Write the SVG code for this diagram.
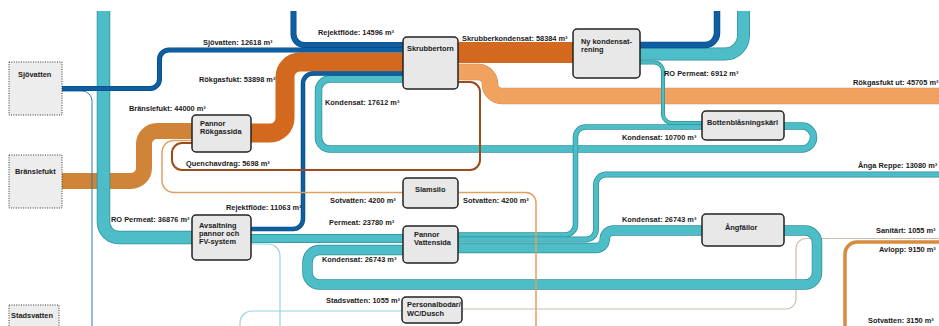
<svg xmlns="http://www.w3.org/2000/svg" xmlns:xlink="http://www.w3.org/1999/xlink" width="939" height="326" viewBox="0 0 939 326">
<style>
.b{fill:none;stroke-linecap:butt;stroke-linejoin:round}
.tO{stroke:#2f8e99}
.tI{stroke:#4dbdc8}
.db{stroke:#0e5ea2}
.dbO{stroke:#08467c}
.ro{stroke:#d3681f}
.lo{stroke:#f1a25e}
.loO{stroke:#c98a58}
.bf{stroke:#d08437}
.qu{stroke:#9c4c1c}
.sot{stroke:#e0a060}
.av{stroke:#d98a3c}
.st{stroke:#94d6dc}
.san{stroke:#cdbcae}
.sj{stroke:#2b7bb9}
text{font-family:"Liberation Sans",Arial,sans-serif;font-size:7.4px;font-weight:bold;fill:#1a1a1a}
.node rect{fill:#e8e8e8;stroke:#222;stroke-width:1.5}
.src rect{fill:#ededed;stroke:#333;stroke-width:1;stroke-dasharray:1 1.4}
</style>
<defs>
<path id="p1" d="M103.5,11 V222 A15.5,15.5 0 0 0 119,237.5 H192"/>
<path id="p2" d="M640,54 H725 A18.5,18.5 0 0 0 743.5,35.5 V11"/>
<path id="p3" d="M640,45 H705 A12,12 0 0 0 717,33 V11"/>
<path id="p4" d="M293.5,11 V34 A11,11 0 0 0 304.5,45 H403"/>
<path id="p5" d="M62,88.5 H150 A9.5,9.5 0 0 0 159.5,79 V59.5 A9.5,9.5 0 0 1 169,50 H403"/>
<path id="p6" d="M251,133 H270 A15,15 0 0 0 285,118 V77 A15,15 0 0 1 300,62 H403"/>
<path id="p7" d="M403,73.5 H313 A10,10 0 0 0 303,83.5 V219 A10,10 0 0 1 293,229 H251"/>
<path id="p8" d="M403,79 H330 A11.5,11.5 0 0 0 318.5,90.5 V137.5 A11.5,11.5 0 0 0 330,149 H802 A11.5,11.5 0 0 0 813.5,137.5 A11.5,11.5 0 0 0 802,126 H784"/>
<path id="p9" d="M458,235 H565 A10.5,10.5 0 0 0 575.5,224.5 V137 A10,10 0 0 1 585.5,127 H702"/>
<path id="p10" d="M640,62.5 H654 A9,9 0 0 1 663,71.5 V114 A9,9 0 0 0 672,123 H702"/>
<path id="p12" d="M458,72 H478 A12,12 0 0 1 490,84 A12,12 0 0 0 502,96 H939"/>
<path id="p13" d="M62,181 H131 A13,13 0 0 0 144,168 V144 A13,13 0 0 1 157,131 H192"/>
<path id="p17" d="M458,239.5 H586 A10,10 0 0 0 596,229.5 V184.5 A10,10 0 0 1 606,174.5 H939"/>
<path id="p18" d="M458,248 H596 A8.75,8.75 0 0 0 604.75,239.25 A8.75,8.75 0 0 1 613.5,230.5 H702"/>
<path id="p19" d="M784,230.5 H805 A12,12 0 0 1 817,242.5 V272.5 A12,12 0 0 1 805,284.5 H319.5 A12,12 0 0 1 307.5,272.5 V262 A12,12 0 0 1 319.5,250 H403"/>
<path id="p20" d="M251,238.5 H403"/>
</defs>

<g id="connectors" class="b">
  <path class="st" stroke-width="1.2" d="M251,244 H268 A12,12 0 0 1 280,256 V326"/>
  <path class="st" stroke-width="1.2" d="M240,326 V323 A12,12 0 0 1 252,311 H402"/>
  <path class="san" stroke-width="1.2" d="M939,238.5 H806 A10,10 0 0 0 796,248.5 V299 A10,10 0 0 1 786,309 H462"/>
  <path class="av" stroke-width="3.5" d="M939,242 H857 A12,12 0 0 0 845,254 V326"/>

  <use xlink:href="#p13" class="bf" stroke-width="16"/>
  <path class="sj" stroke-width="1" d="M62,91 H82 A10,10 0 0 1 92,101 V326"/>

  <use xlink:href="#p1" class="tO" stroke-width="13.5"/>
  <use xlink:href="#p1" class="tI" stroke-width="12"/>
  <use xlink:href="#p2" class="tO" stroke-width="13"/>
  <use xlink:href="#p2" class="tI" stroke-width="11.5"/>
  <use xlink:href="#p8" class="tO" stroke-width="7.5"/>
  <use xlink:href="#p8" class="tI" stroke-width="6"/>
  <use xlink:href="#p9" class="tO" stroke-width="5.5"/>
  <use xlink:href="#p9" class="tI" stroke-width="4"/>
  <use xlink:href="#p17" class="tO" stroke-width="5.8"/>
  <use xlink:href="#p17" class="tI" stroke-width="4.3"/>
  <use xlink:href="#p19" class="tO" stroke-width="10.5"/>
  <use xlink:href="#p19" class="tI" stroke-width="9"/>
  <use xlink:href="#p18" class="tO" stroke-width="10.5"/>
  <use xlink:href="#p18" class="tI" stroke-width="9"/>
  <use xlink:href="#p20" class="tO" stroke-width="9"/>
  <use xlink:href="#p20" class="tI" stroke-width="7.5"/>

  <use xlink:href="#p12" class="loO" stroke-width="16.5"/>
  <use xlink:href="#p12" class="lo" stroke-width="15.3"/>
  <path class="ro" stroke-width="21" d="M458,52.5 H573"/>
  <use xlink:href="#p6" class="ro" stroke-width="19"/>

  <use xlink:href="#p3" class="dbO" stroke-width="6.5"/>
  <use xlink:href="#p3" class="db" stroke-width="5.3"/>
  <use xlink:href="#p4" class="dbO" stroke-width="6"/>
  <use xlink:href="#p4" class="db" stroke-width="4.8"/>
  <use xlink:href="#p5" class="dbO" stroke-width="5"/>
  <use xlink:href="#p5" class="db" stroke-width="3.8"/>
  <use xlink:href="#p7" class="dbO" stroke-width="4.5"/>
  <use xlink:href="#p7" class="db" stroke-width="3.3"/>

  <use xlink:href="#p10" class="tO" stroke-width="4"/>
  <use xlink:href="#p10" class="tI" stroke-width="2.6"/>

  <path class="qu" stroke-width="2" d="M200,143 H182 A10,10 0 0 0 172,153 V160 A10,10 0 0 0 182,170 H470 A10,10 0 0 0 480,160 V92 A10,10 0 0 0 470,82 H458"/>
  <path class="sot" stroke-width="1.5" d="M200,140.5 H174 A12,12 0 0 0 162,152.5 V180.5 A12,12 0 0 0 174,192.5 H403"/>
  <path class="sot" stroke-width="1.5" d="M458,192.5 H526 A10,10 0 0 1 536,202.5 V326"/>
</g>

<g id="labels">
  <text x="203" y="45">Sjövatten: 12618 m³</text>
  <text x="318" y="35">Rejektflöde: 14596 m³</text>
  <text x="462" y="41">Skrubberkondensat: 58384 m³</text>
  <text x="199" y="81.5">Rökgasfukt: 53898 m³</text>
  <text x="129" y="110.5">Bränslefukt: 44000 m³</text>
  <text x="325" y="105">Kondensat: 17612 m³</text>
  <text x="664" y="76">RO Permeat: 6912 m³</text>
  <text x="853" y="85">Rökgasfukt ut: 45705 m³</text>
  <text x="622" y="140">Kondensat: 10700 m³</text>
  <text x="186" y="166">Quenchavdrag: 5698 m³</text>
  <text x="858" y="167.5">Ånga Reppe: 13080 m³</text>
  <text x="330" y="203">Sotvatten: 4200 m³</text>
  <text x="463" y="203">Sotvatten: 4200 m³</text>
  <text x="226" y="210">Rejektflöde: 11063 m³</text>
  <text x="111" y="222">RO Permeat: 36876 m³</text>
  <text x="329" y="225">Permeat: 23780 m³</text>
  <text x="622" y="222">Kondensat: 26743 m³</text>
  <text x="876" y="233">Sanitärt: 1055 m³</text>
  <text x="879" y="252">Avlopp: 9150 m³</text>
  <text x="322" y="262">Kondensat: 26743 m³</text>
  <text x="326" y="303">Stadsvatten: 1055 m³</text>
  <text x="868" y="323">Sotvatten: 3150 m³</text>
</g>

<g id="sjovatten" class="src"><rect x="9" y="62" width="53" height="53"/><text x="18" y="77">Sjövatten</text></g>
<g id="branslefukt" class="src"><rect x="9" y="155" width="53" height="53"/><text x="15" y="174">Bränslefukt</text></g>
<g id="stadsvatten" class="src"><rect x="9" y="305" width="50" height="30"/><text x="11" y="318">Stadsvatten</text></g>

<g id="pannor-rokgassida" class="node"><rect x="192" y="115" width="59" height="37" rx="4"/><text x="200" y="125.5">Pannor</text><text x="200" y="133.5">Rökgassida</text></g>
<g id="skrubbertorn" class="node"><rect x="403" y="37" width="55" height="52" rx="4"/><text x="407" y="51">Skrubbertorn</text></g>
<g id="ny-kondensatrening" class="node"><rect x="573" y="29" width="67" height="49" rx="4"/><text x="581" y="43.5">Ny kondensat-</text><text x="581" y="51.5">rening</text></g>
<g id="bottenblasningskarl" class="node"><rect x="702" y="111" width="82" height="29" rx="4"/><text x="707" y="124.5">Bottenblåsningskärl</text></g>
<g id="slamsilo" class="node"><rect x="403" y="178" width="55" height="30" rx="4"/><text x="415" y="192">Slamsilo</text></g>
<g id="pannor-vattensida" class="node"><rect x="403" y="226" width="55" height="37" rx="4"/><text x="414" y="237">Pannor</text><text x="414" y="245">Vattensida</text></g>
<g id="avsaltning" class="node"><rect x="192" y="215" width="59" height="45" rx="4"/><text x="199" y="228.3">Avsaltning</text><text x="199" y="236">pannor och</text><text x="199" y="244">FV-system</text></g>
<g id="angfallor" class="node"><rect x="702" y="214" width="82" height="32" rx="4"/><text x="725" y="230">Ångfällor</text></g>
<g id="personalbodar" class="node"><rect x="402" y="297" width="60" height="26" rx="4"/><text x="407" y="307">Personalbodar/</text><text x="407" y="316">WC/Dusch</text></g>
</svg>
